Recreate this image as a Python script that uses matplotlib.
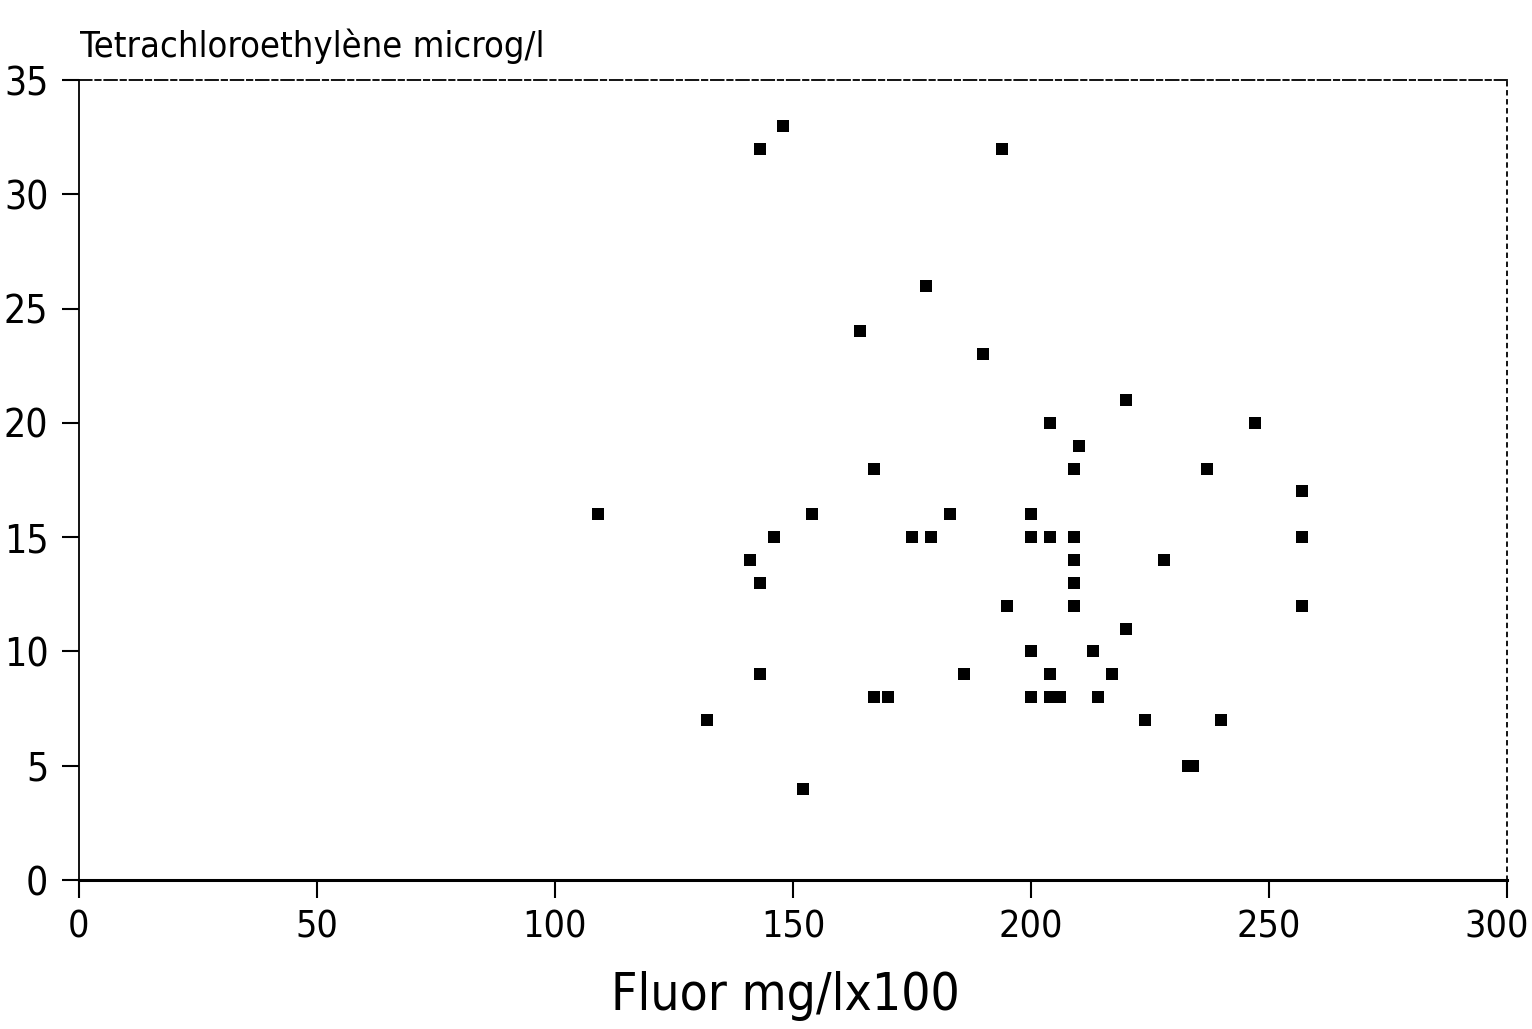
import matplotlib
matplotlib.use("Agg")
import matplotlib.pyplot as plt
from matplotlib import font_manager, transforms

# Fluor (mg/l x100) vs tetrachloroethylene (microg/l)
fluor = [109, 132, 141, 143, 143, 143, 146, 148, 152, 154,
         164, 167, 167, 170, 175, 178, 179, 183, 186, 190,
         194, 195, 200, 200, 200, 200, 204, 204, 204, 204,
         206, 210, 209, 209, 209, 209, 209, 213, 214, 217,
         220, 220, 224, 228, 233, 234, 237, 240, 247, 257,
         257, 257]
tetra = [16, 7, 14, 32, 13, 9, 15, 33, 4, 16,
         24, 18, 8, 8, 15, 26, 15, 16, 9, 23,
         32, 12, 16, 15, 10, 8, 20, 15, 9, 8,
         8, 19, 18, 15, 14, 13, 12, 10, 8, 9,
         21, 11, 7, 14, 5, 5, 18, 7, 20, 17,
         15, 12]

x_ticks = [0, 50, 100, 150, 200, 250, 300]
y_ticks = [0, 5, 10, 15, 20, 25, 30, 35]

names = {f.name for f in font_manager.fontManager.ttflist}
if "Liberation Sans Narrow" in names:
    font = dict(family="Liberation Sans Narrow")
else:
    font = dict(family="DejaVu Sans", stretch="condensed")

fig = plt.figure(figsize=(15.32, 10.29), dpi=100)
ax = fig.add_axes([79 / 1532, 149 / 1029, 1428 / 1532, 800 / 1029])

ax.scatter(fluor, tetra, marker="s", s=85, color="black", linewidths=0, zorder=3)

ax.set_xlim(0, 300)
ax.set_ylim(0, 35)
ax.set_xticks(x_ticks)
ax.set_yticks(y_ticks)
ax.set_xticklabels([str(v) for v in x_ticks], fontsize=27, **font)
ax.set_yticklabels([str(v) for v in y_ticks], fontsize=28, **font)
ax.tick_params(axis="x", direction="out", length=13, width=1.5, pad=8)
ax.tick_params(axis="y", direction="out", length=12, width=1.5, pad=10)

# last x label sits a little left of its tick in the scan
last = ax.get_xticklabels()[-1]
last.set_transform(last.get_transform()
                   + transforms.ScaledTranslation(-10 / 100, 0, fig.dpi_scale_trans))

ax.spines["bottom"].set_linewidth(2.2)
ax.spines["left"].set_linewidth(1.3)
ax.spines["left"].set_linestyle((0, (8, 1)))
ax.spines["top"].set_linewidth(1.3)
ax.spines["top"].set_linestyle((0, (7, 2, 3, 2)))
ax.spines["right"].set_linewidth(1.3)
ax.spines["right"].set_linestyle((0, (2, 3)))

fig.text(80 / 1532, 1 - 57 / 1029, "Tetrachloroethylène microg/l",
         fontsize=26, ha="left", va="baseline", **font)
fig.text(785 / 1532, 1 - 1010 / 1029, "Fluor mg/lx100",
         fontsize=37, ha="center", va="baseline", **font)

fig.savefig("out.png", dpi=100)
